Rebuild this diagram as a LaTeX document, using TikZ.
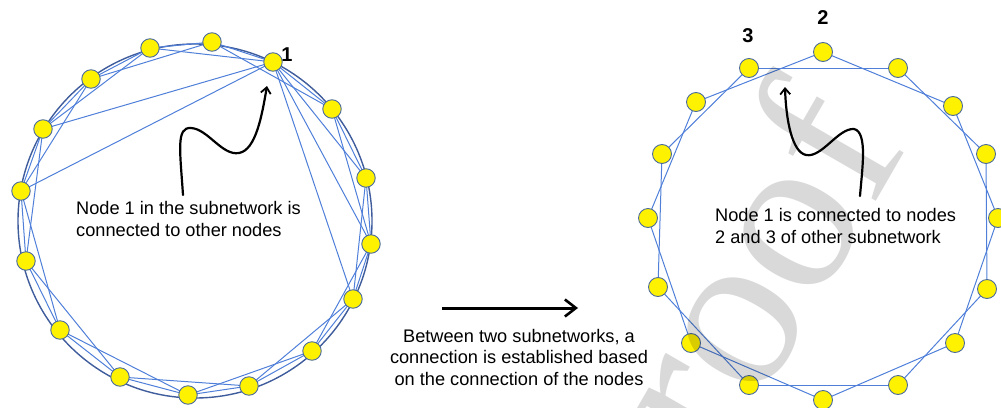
\documentclass[tikz,border=0pt]{standalone}
\usepackage{fontspec}
\setmainfont{Liberation Sans}
\newfontfamily\markfont{Liberation Serif}
\usetikzlibrary{arrows.meta}

\definecolor{edgeblue}{HTML}{4F7FD9}
\definecolor{ringblue}{HTML}{3F5C9C}
\definecolor{rimblue}{HTML}{4A6A9E}

\begin{document}
\begin{tikzpicture}[x=1pt,y=-1pt,
  vert/.style={circle, fill=yellow, draw=rimblue, line width=0.9pt,
               minimum size=18.5pt, inner sep=0pt},
  link/.style={draw=edgeblue, line width=1pt},
  ring/.style={draw=ringblue, line width=1.4pt},
  caption/.style={font=\fontsize{18.2}{21.5}\selectfont, inner sep=0pt},
  numlabel/.style={font=\fontsize{20}{20}\selectfont\bfseries, inner sep=0pt},
  curly/.style={draw=black, line width=2.2pt, line cap=round,
                -{Straight Barb[length=6pt,width=10pt,line width=1.8pt]}},
  flow/.style={draw=black, line width=3pt,
               -{Straight Barb[length=11pt,width=17pt,line width=2.6pt]}}
]
\useasboundingbox (0,0) rectangle (1001,407);

% ---------- left subnetwork ----------
\draw[ring] (195,221) circle (177);

\foreach \n/\p in {1/{150,48},2/{212,42},3/{273,62},4/{332,109},
                   5/{366,178},6/{371,244},7/{353,299},8/{312,351},
                   9/{249,386},10/{188,395},11/{120,377},12/{60,330},
                   13/{26,261},14/{21,191},15/{43,129},16/{91,79}}
  \coordinate (a\n) at (\p);

% ring lattice: each node linked to its two neighbours on either side
\foreach \i in {1,...,16}{
  \pgfmathtruncatemacro{\j}{mod(\i,16)+1}
  \pgfmathtruncatemacro{\k}{mod(\i+1,16)+1}
  \draw[link] (a\i) -- (a\j);
  \draw[link] (a\i) -- (a\k);
}
% extra long links of node 1
\foreach \t in {6,7,14,15}
  \draw[link] (a3) -- (a\t);

\foreach \i in {1,...,16}
  \node[vert] (va\i) at (a\i) {};

\node[numlabel] (one) at (287,55) {1};

% multi-line captions are anchored at the baseline of their last line
\node[caption, anchor=base west, align=left] (ltext) at (76,236)
  {Node 1 in the subnetwork is\\connected to other nodes};

\coordinate (lstart) at (183,195);
\draw[curly] (lstart) .. controls (180,150) and (176,127) .. (191,128)
  .. controls (208,129) and (222,156) .. (239,153)
  .. controls (256,150) and (262,115) .. (267,86);

% ---------- transition ----------
\coordinate (fa) at (442,308);
\coordinate (fb) at (578,308);
\draw[flow] (fa) -- (fb);
\node[caption, anchor=base, align=center] (mtext) at (519,385)
  {Between two subnetworks, a\\connection is established based\\on the connection of the nodes};

% ---------- right subnetwork ----------
\foreach \n/\p in {0/{823,52},1/{749,68},2/{696,102},3/{662,154},
                   4/{648,218},5/{658,287},6/{691,343},7/{749,385},
                   8/{823,400},9/{898,385},10/{955,343},11/{987,289},
                   12/{998,218},13/{986,154},14/{953,106},15/{898,68}}
  \coordinate (b\n) at (\p);

\foreach \i in {0,...,15}{
  \pgfmathtruncatemacro{\k}{mod(\i+2,16)}
  \draw[link] (b\i) -- (b\k);
}
\foreach \i in {0,...,15}
  \node[vert, minimum size=19pt] (vb\i) at (b\i) {};

\node[numlabel] (two) at (823,18) {2};
\node[numlabel] (three) at (748,36) {3};

\node[caption, anchor=base west, align=left] (rtext) at (715,243.3)
  {Node 1 is connected to nodes\\2 and 3 of other subnetwork};

\coordinate (rstart) at (860,196);
\draw[curly] (rstart) .. controls (862,170) and (868,132) .. (854,129)
  .. controls (838,128) and (822,158) .. (806,155)
  .. controls (792,152) and (786,120) .. (785,87);

% ---------- proof watermark ----------
\begin{scope}
  \clip (0,0) rectangle (1001,407);
  \node[rotate=60, anchor=base west, inner sep=0pt, text=black, text opacity=0.15,
        font=\fontsize{225}{225}\markfont] (mark) at (659,578) {Proof};
\end{scope}
\end{tikzpicture}
\end{document}
